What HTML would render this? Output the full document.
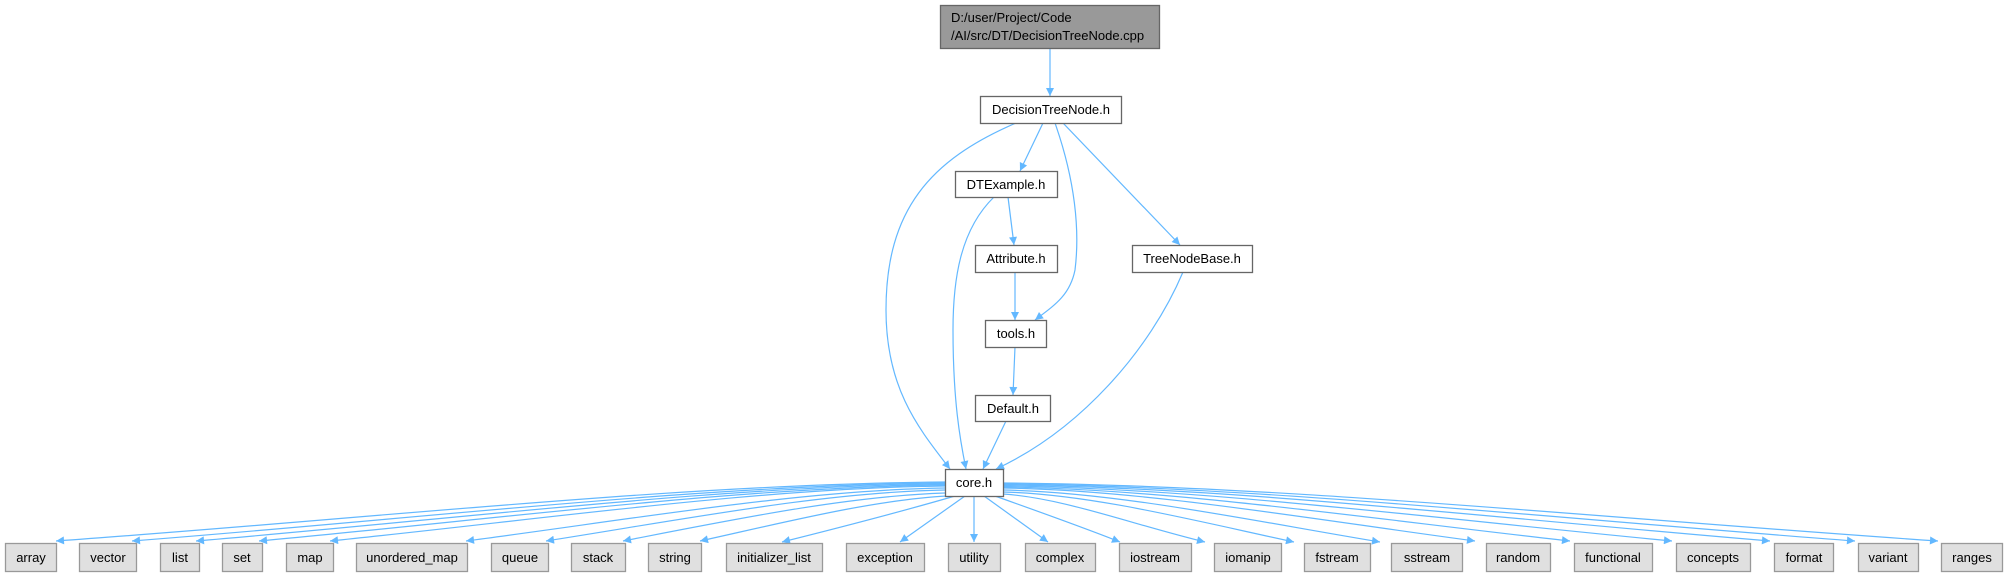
<!DOCTYPE html>
<html><head><meta charset="utf-8"><style>
html,body{margin:0;padding:0;background:#fff;}
svg{display:block;}
text{font-family:"Liberation Sans",Arial,sans-serif;font-size:13px;fill:#000;}
</style></head><body>
<svg width="2007" height="576" viewBox="0 0 2007 576" xmlns="http://www.w3.org/2000/svg">
<defs>
<marker id="a" viewBox="0 0 10 10" refX="10" refY="5" markerWidth="10" markerHeight="8" markerUnits="userSpaceOnUse" orient="auto">
<path d="M0,0 L10,5 L0,10 z" fill="#63b8ff"/>
</marker>
</defs>
<g fill="none" stroke="#63b8ff" stroke-width="1.2" marker-end="url(#a)">
<path d="M1050,48 L1050,96"/>
<path d="M1043,123 L1020,171"/>
<path d="M1016,123 C930,160 886,210 886,310 C886,390 920,430 950,469"/>
<path d="M1055,123 C1075,180 1080,230 1075,270 C1070,295 1055,305 1035,320"/>
<path d="M1063,123 L1180,245"/>
<path d="M1008,197 L1014,245"/>
<path d="M994,197 C960,230 953,280 953,330 C953,400 960,440 966,469"/>
<path d="M1015,272 L1015,320"/>
<path d="M1015,347 L1013,395"/>
<path d="M1006,421 L983,469"/>
<path d="M1183,272 C1150,350 1080,430 996,469"/>
<!-- core to bottom -->
<path d="M945,482 C678,484 367,519 56,541"/>
<path d="M945,483 C701,485 417,519 132,541"/>
<path d="M945,484 C720,486 458,519 196,541"/>
<path d="M945,485 C739,487 499,519 259,541"/>
<path d="M945,486 C760,488 545,519 330,541"/>
<path d="M945,488 C801,490 634,519 466,541"/>
<path d="M945,490 C825,492 686,519 546,541"/>
<path d="M945,493 C848,496 736,519 623,541"/>
<path d="M947,496 C873,500 786,522 700,541"/>
<path d="M955,496 C900,512 830,530 782,542"/>
<path d="M965,496 L900,542"/>
<path d="M974,496 L974,542"/>
<path d="M984,496 L1048,542"/>
<path d="M995,496 C1040,512 1090,530 1120,542"/>
<path d="M1003,494 C1064,498 1134,525 1205,542"/>
<path d="M1003,492 C1090,494 1192,520 1294,542"/>
<path d="M1003,490 C1116,492 1248,520 1380,542"/>
<path d="M1003,488 C1145,490 1310,519 1475,541"/>
<path d="M1003,487 C1173,489 1372,519 1570,541"/>
<path d="M1003,486 C1204,488 1438,519 1672,541"/>
<path d="M1003,485 C1233,487 1502,519 1770,541"/>
<path d="M1003,484 C1259,486 1557,519 1855,541"/>
<path d="M1003,483 C1284,485 1611,519 1938,541"/>
</g>
<g stroke-width="1.3">
<rect x="940.5" y="5.5" width="219" height="43" fill="#999" stroke="#666"/>
<text x="951" y="22">D:/user/Project/Code</text>
<text x="951" y="40">/AI/src/DT/DecisionTreeNode.cpp</text>
<g fill="#fff" stroke="#666">
<rect x="980.5" y="96.5" width="141" height="27"/>
<rect x="955.5" y="171.5" width="102" height="26"/>
<rect x="975.5" y="245.5" width="82" height="27"/>
<rect x="1132.5" y="245.5" width="120" height="27"/>
<rect x="985.5" y="320.5" width="61" height="27"/>
<rect x="975.5" y="395.5" width="75" height="26"/>
<rect x="945.5" y="469.5" width="58" height="27"/>
</g>
<text x="1051" y="114" text-anchor="middle">DecisionTreeNode.h</text>
<text x="1006" y="189" text-anchor="middle">DTExample.h</text>
<text x="1016" y="263" text-anchor="middle">Attribute.h</text>
<text x="1192" y="263" text-anchor="middle">TreeNodeBase.h</text>
<text x="1016" y="338" text-anchor="middle">tools.h</text>
<text x="1013" y="413" text-anchor="middle">Default.h</text>
<text x="974" y="487" text-anchor="middle">core.h</text>
<g fill="#e0e0e0" stroke="#999">
<rect x="5.5" y="543.5" width="51" height="28"/>
<rect x="79.5" y="543.5" width="57" height="28"/>
<rect x="160.5" y="543.5" width="39" height="28"/>
<rect x="222.5" y="543.5" width="40" height="28"/>
<rect x="286.5" y="543.5" width="47" height="28"/>
<rect x="356.5" y="543.5" width="111" height="28"/>
<rect x="491.5" y="543.5" width="57" height="28"/>
<rect x="571.5" y="543.5" width="54" height="28"/>
<rect x="648.5" y="543.5" width="53" height="28"/>
<rect x="726.5" y="543.5" width="96" height="28"/>
<rect x="846.5" y="543.5" width="78" height="28"/>
<rect x="948.5" y="543.5" width="52" height="28"/>
<rect x="1025.5" y="543.5" width="70" height="28"/>
<rect x="1119.5" y="543.5" width="72" height="28"/>
<rect x="1214.5" y="543.5" width="67" height="28"/>
<rect x="1304.5" y="543.5" width="66" height="28"/>
<rect x="1391.5" y="543.5" width="71" height="28"/>
<rect x="1486.5" y="543.5" width="64" height="28"/>
<rect x="1574.5" y="543.5" width="78" height="28"/>
<rect x="1676.5" y="543.5" width="74" height="28"/>
<rect x="1774.5" y="543.5" width="59" height="28"/>
<rect x="1858.5" y="543.5" width="60" height="28"/>
<rect x="1941.5" y="543.5" width="61" height="28"/>
</g>
</g>
<g text-anchor="middle">
<text x="31" y="562">array</text>
<text x="108" y="562">vector</text>
<text x="180" y="562">list</text>
<text x="242" y="562">set</text>
<text x="310" y="562">map</text>
<text x="412" y="562">unordered_map</text>
<text x="520" y="562">queue</text>
<text x="598" y="562">stack</text>
<text x="675" y="562">string</text>
<text x="774" y="562">initializer_list</text>
<text x="885" y="562">exception</text>
<text x="974" y="562">utility</text>
<text x="1060" y="562">complex</text>
<text x="1155" y="562">iostream</text>
<text x="1248" y="562">iomanip</text>
<text x="1337" y="562">fstream</text>
<text x="1427" y="562">sstream</text>
<text x="1518" y="562">random</text>
<text x="1613" y="562">functional</text>
<text x="1713" y="562">concepts</text>
<text x="1804" y="562">format</text>
<text x="1888" y="562">variant</text>
<text x="1972" y="562">ranges</text>
</g>
</svg>
</body></html>
